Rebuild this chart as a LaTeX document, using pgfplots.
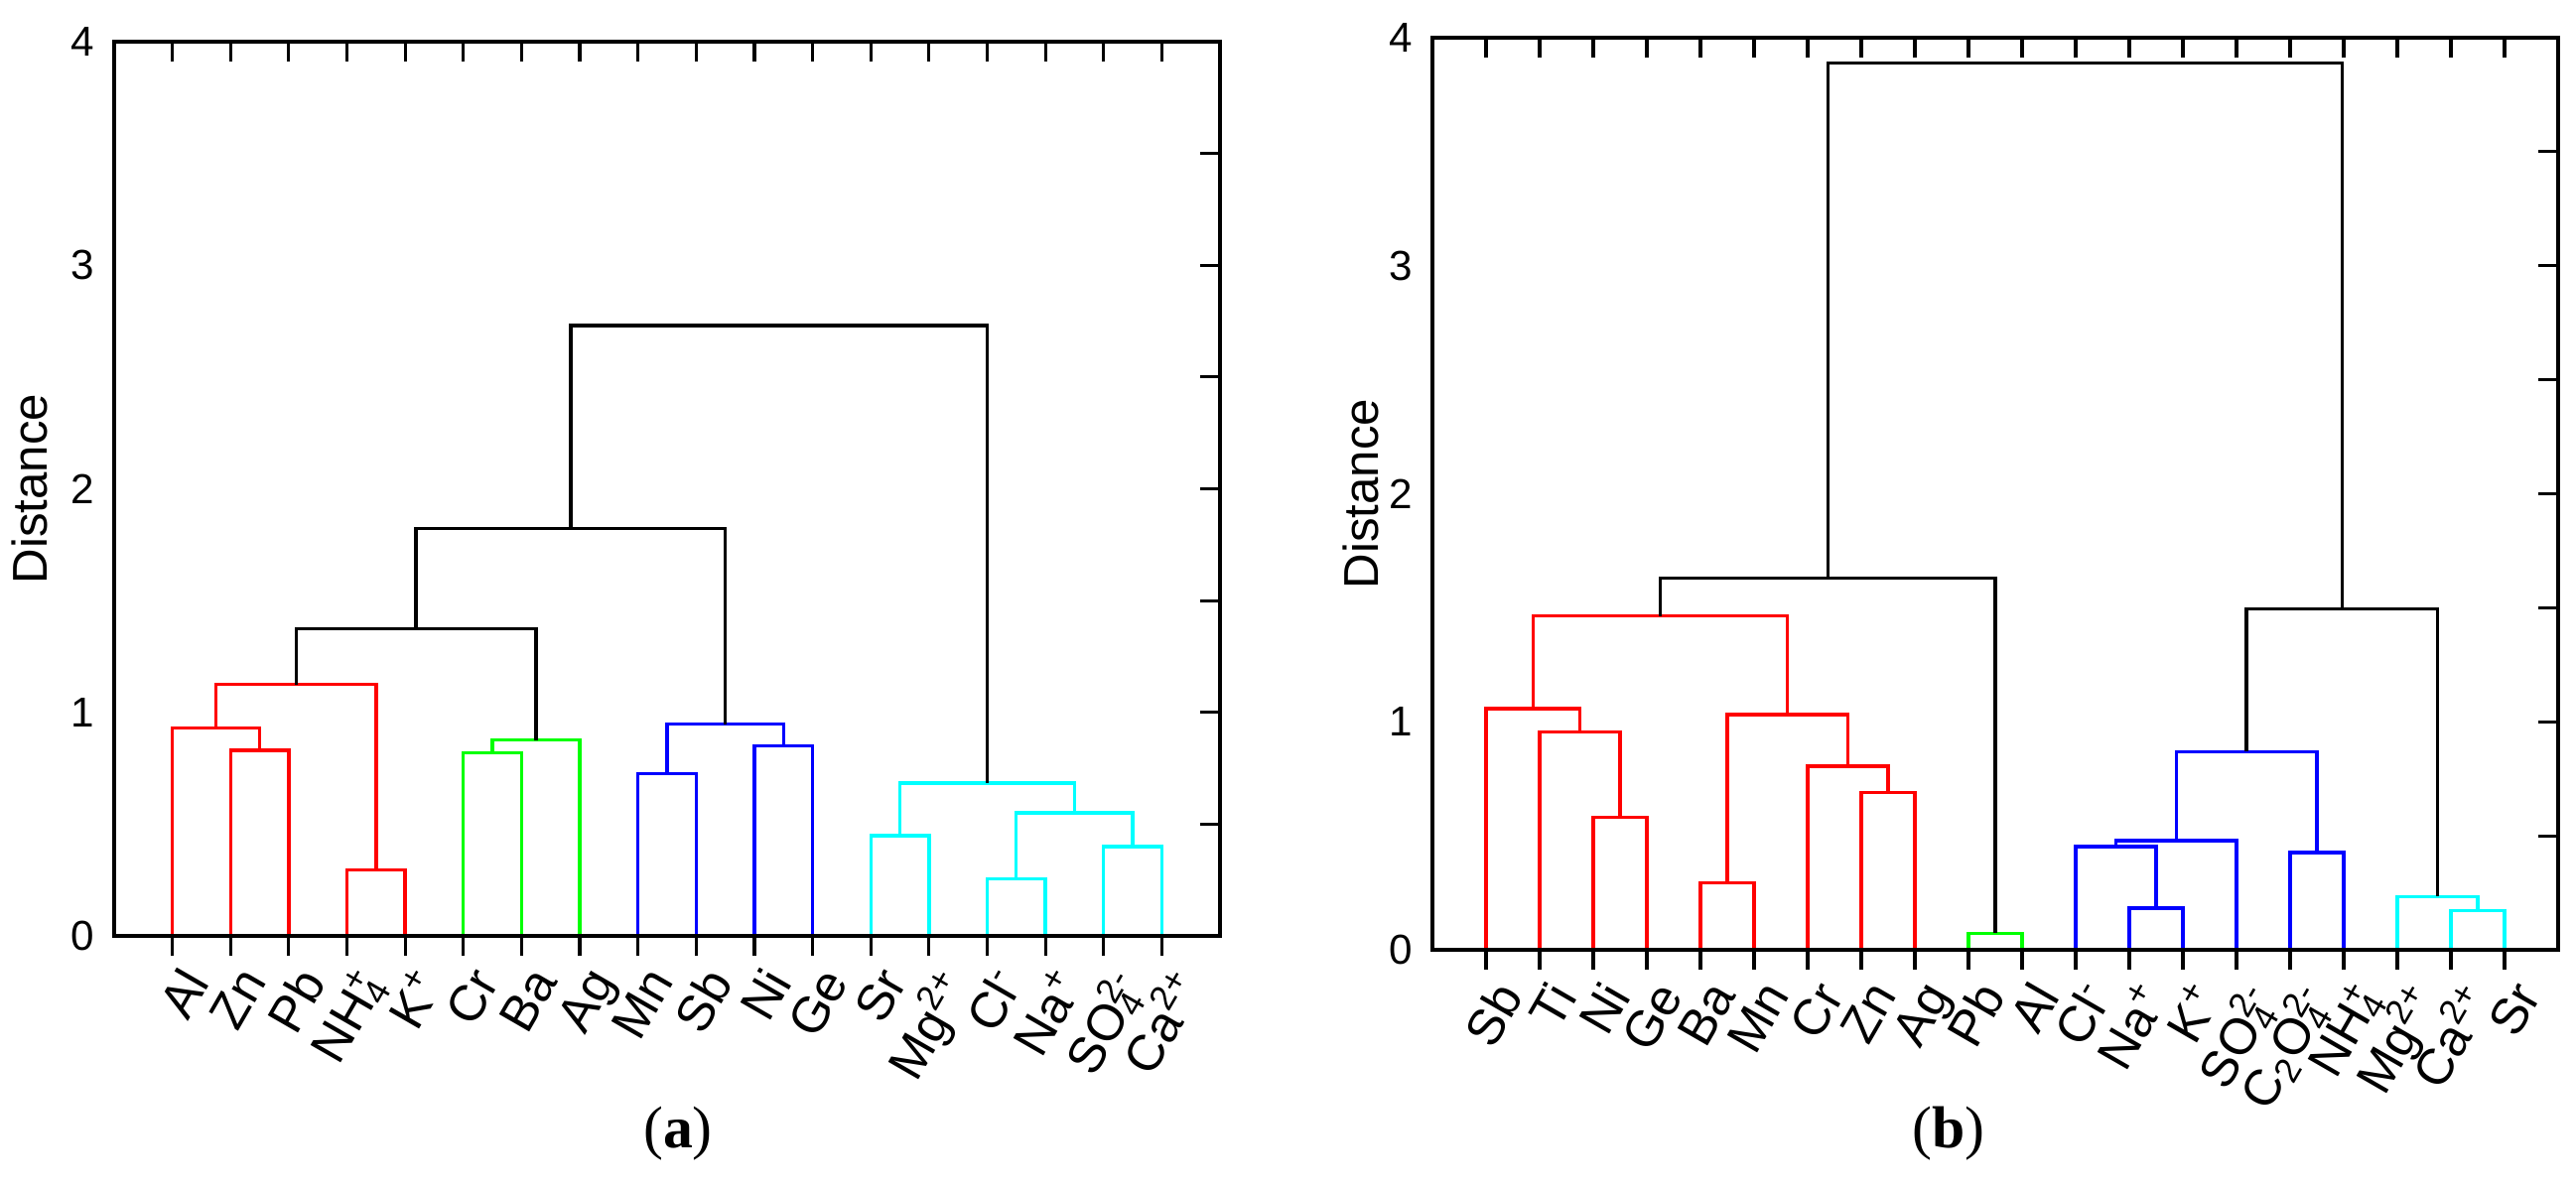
\documentclass[border=0pt]{standalone}
\usepackage{fontspec}
\setmainfont{Liberation Sans}
\newfontfamily\capfont{Liberation Serif}
\usepackage{pgfplots}
\pgfplotsset{compat=1.18}

\definecolor{cRed}{RGB}{255,0,0}
\definecolor{cGreen}{RGB}{0,255,0}
\definecolor{cBlue}{RGB}{0,0,255}
\definecolor{cCyan}{RGB}{0,255,255}

% stacked sub- and superscript for ion labels
\newcommand\ion[2]{\rlap{\textsubscript{#1}}\textsuperscript{#2}}

\pgfplotsset{
  dendro/.style={
    scale only axis,
    xmin=0, ymin=0, ymax=4,
    axis line style={line width=0.9pt},
    every tick/.style={black, line width=0.9pt},
    major tick length=2mm, minor tick length=2mm,
    ytick={0,1,2,3,4}, minor ytick={0.5,1.5,2.5,3.5},
    ytick align=inside, ytick pos=right, yticklabel pos=left,
    xtick pos=left, xtick align=outside,
    /pgf/number format/assume math mode=true,
    yticklabel style={font=\fontsize{12}{14}\selectfont, xshift=-0.8mm},
    xticklabel style={font=\fontsize{14.5}{16}\selectfont, rotate=60, anchor=north east, inner sep=1pt, yshift=-0.6mm},
    ylabel={Distance},
    ylabel style={font=\fontsize{14}{16}\selectfont, anchor=center},
    axis on top,
  },
  toptick/.style={
    scale only axis,
    xmin=0, ymin=0, ymax=4,
    axis line style={draw=none},
    every tick/.style={black, line width=0.9pt},
    major tick length=2mm,
    xtick pos=right, xtick align=inside,
    xticklabels={}, ytick=\empty,
  },
  link/.style={line width=0.95pt, mark=none},
}

\begin{document}
\begin{tikzpicture}
\path[use as bounding box] (0,0) rectangle (259.5mm,119.8mm);

% ---------------- (a) ----------------
\begin{axis}[dendro, at={(11.5mm,25.5mm)}, width=111.4mm, height=90.1mm,
  xmax=19, xtick={1,...,18},
  xticklabels={Al,Zn,Pb,NH\ion{4}{+},K\textsuperscript{+},Cr,Ba,Ag,Mn,Sb,Ni,Ge,Sr,Mg\textsuperscript{2+},Cl\textsuperscript{-},Na\textsuperscript{+},SO\ion{4}{2-},Ca\textsuperscript{2+}},
  ylabel style={at={(axis description cs:-0.0763,0.5)}}]
\addplot[link, cRed] coordinates {(2,0) (2,0.83) (3,0.83) (3,0)};
\addplot[link, cRed] coordinates {(1,0) (1,0.93) (2.5,0.93) (2.5,0.83)};
\addplot[link, cRed] coordinates {(4,0) (4,0.295) (5,0.295) (5,0)};
\addplot[link, cRed] coordinates {(1.75,0.93) (1.75,1.124) (4.5,1.124) (4.5,0.295)};
\addplot[link, cGreen] coordinates {(6,0) (6,0.82) (7,0.82) (7,0)};
\addplot[link, cGreen] coordinates {(6.5,0.82) (6.5,0.876) (8,0.876) (8,0)};
\addplot[link, cBlue] coordinates {(9,0) (9,0.727) (10,0.727) (10,0)};
\addplot[link, cBlue] coordinates {(11,0) (11,0.849) (12,0.849) (12,0)};
\addplot[link, cBlue] coordinates {(9.5,0.727) (9.5,0.947) (11.5,0.947) (11.5,0.849)};
\addplot[link, cCyan] coordinates {(13,0) (13,0.448) (14,0.448) (14,0)};
\addplot[link, cCyan] coordinates {(15,0) (15,0.255) (16,0.255) (16,0)};
\addplot[link, cCyan] coordinates {(17,0) (17,0.40) (18,0.40) (18,0)};
\addplot[link, cCyan] coordinates {(15.5,0.255) (15.5,0.55) (17.5,0.55) (17.5,0.40)};
\addplot[link, cCyan] coordinates {(13.5,0.448) (13.5,0.683) (16.5,0.683) (16.5,0.55)};
\addplot[link, black] coordinates {(3.125,1.124) (3.125,1.375) (7.25,1.375) (7.25,0.876)};
\addplot[link, black] coordinates {(5.1875,1.375) (5.1875,1.823) (10.5,1.823) (10.5,0.947)};
\addplot[link, black] coordinates {(7.84375,1.823) (7.84375,2.73) (15,2.73) (15,0.683)};
\end{axis}
\begin{axis}[toptick, at={(11.5mm,25.5mm)}, width=111.4mm, height=90.1mm,
  xmax=19, xtick={1,...,18}]
\end{axis}

% ---------------- (b) ----------------
\begin{axis}[dendro, at={(144.3mm,24.1mm)}, width=113.4mm, height=91.9mm,
  xmax=21, xtick={1,...,20},
  xticklabels={Sb,Ti,Ni,Ge,Ba,Mn,Cr,Zn,Ag,Pb,Al,Cl\textsuperscript{-},Na\textsuperscript{+},K\textsuperscript{+},SO\ion{4}{2-},C\textsubscript{2}O\ion{4}{2-},NH\ion{4}{+},Mg\textsuperscript{2+},Ca\textsuperscript{2+},Sr},
  ylabel style={at={(axis description cs:-0.064,0.5)}}]
\addplot[link, cRed] coordinates {(3,0) (3,0.582) (4,0.582) (4,0)};
\addplot[link, cRed] coordinates {(2,0) (2,0.955) (3.5,0.955) (3.5,0.582)};
\addplot[link, cRed] coordinates {(1,0) (1,1.058) (2.75,1.058) (2.75,0.955)};
\addplot[link, cRed] coordinates {(5,0) (5,0.293) (6,0.293) (6,0)};
\addplot[link, cRed] coordinates {(8,0) (8,0.689) (9,0.689) (9,0)};
\addplot[link, cRed] coordinates {(7,0) (7,0.805) (8.5,0.805) (8.5,0.689)};
\addplot[link, cRed] coordinates {(5.5,0.293) (5.5,1.032) (7.75,1.032) (7.75,0.805)};
\addplot[link, cRed] coordinates {(1.875,1.058) (1.875,1.464) (6.625,1.464) (6.625,1.032)};
\addplot[link, cGreen] coordinates {(10,0) (10,0.073) (11,0.073) (11,0)};
\addplot[link, black] coordinates {(4.25,1.464) (4.25,1.631) (10.5,1.631) (10.5,0.073)};
\addplot[link, cBlue] coordinates {(13,0) (13,0.183) (14,0.183) (14,0)};
\addplot[link, cBlue] coordinates {(12,0) (12,0.453) (13.5,0.453) (13.5,0.183)};
\addplot[link, cBlue] coordinates {(12.75,0.453) (12.75,0.479) (15,0.479) (15,0)};
\addplot[link, cBlue] coordinates {(16,0) (16,0.426) (17,0.426) (17,0)};
\addplot[link, cBlue] coordinates {(13.875,0.479) (13.875,0.869) (16.5,0.869) (16.5,0.426)};
\addplot[link, cCyan] coordinates {(19,0) (19,0.173) (20,0.173) (20,0)};
\addplot[link, cCyan] coordinates {(18,0) (18,0.233) (19.5,0.233) (19.5,0.173)};
\addplot[link, black] coordinates {(15.1875,0.869) (15.1875,1.494) (18.75,1.494) (18.75,0.233)};
\addplot[link, black] coordinates {(7.375,1.631) (7.375,3.89) (16.96875,3.89) (16.96875,1.494)};
\end{axis}
\begin{axis}[toptick, at={(144.3mm,24.1mm)}, width=113.4mm, height=91.9mm,
  xmax=21, xtick={1,...,20}]
\end{axis}

% panel captions
\node[font=\capfont\fontsize{17}{19}\selectfont] at (68.3mm,5.6mm) {(\textbf{a})};
\node[font=\capfont\fontsize{17}{19}\selectfont] at (196.3mm,5.6mm) {(\textbf{b})};
\end{tikzpicture}
\end{document}
